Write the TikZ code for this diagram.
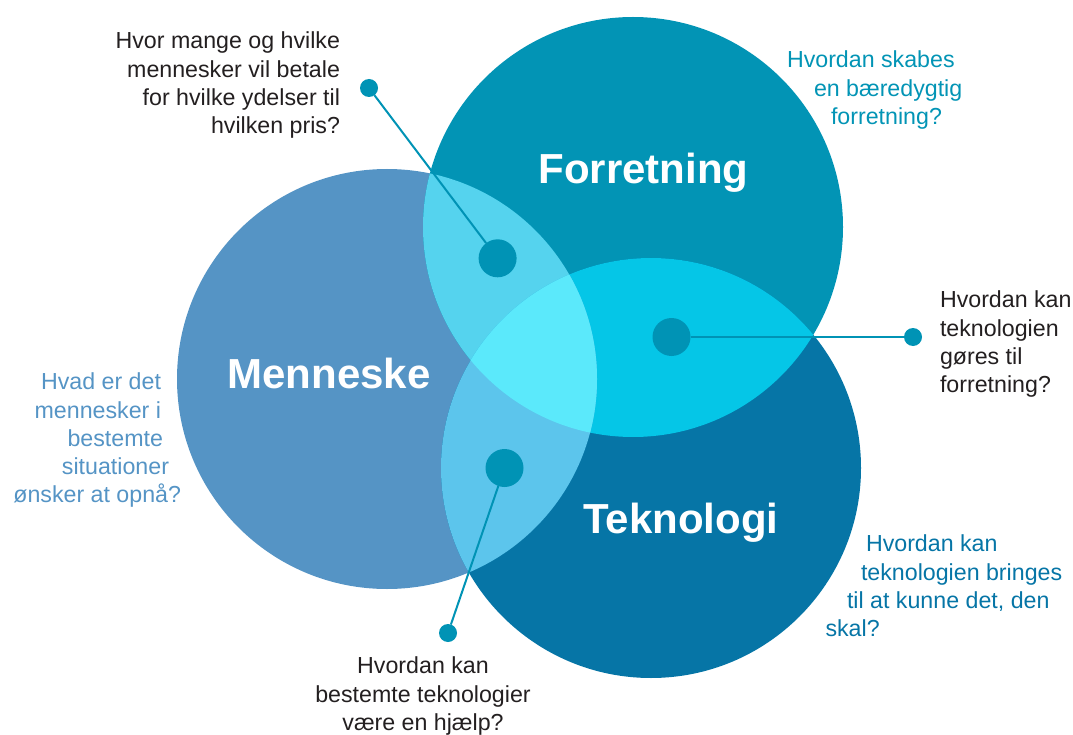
\documentclass[tikz,border=0pt]{standalone}
\usepackage{fontspec}
\setmainfont{Liberation Sans}
% circle and overlap colours
\definecolor{colM}{HTML}{5594C5}
\definecolor{colF}{HTML}{0294B5}
\definecolor{colT}{HTML}{0675A6}
\definecolor{colMF}{HTML}{55D3EE}
\definecolor{colFT}{HTML}{05C6E7}
\definecolor{colMT}{HTML}{5CC5EC}
\definecolor{colMFT}{HTML}{5BE9FB}
\definecolor{dotc}{HTML}{0093B5}
\definecolor{txtdark}{HTML}{231F20}
% invisible spacer that survives line ends
\newcommand{\padw}[1]{\rule{#1}{0pt}}
\begin{document}
\begin{tikzpicture}[x=1pt,y=-1pt,
  every node/.style={inner sep=0pt, outer sep=0pt},
  bigdot/.style={circle, fill=dotc, minimum size=38pt},
  smalldot/.style={circle, fill=dotc, minimum size=18pt},
  conn/.style={draw=dotc, line width=2pt},
  title/.style={text=white, font=\fontsize{42}{50}\selectfont\bfseries},
  question/.style={font=\fontsize{23.2}{28.2}\selectfont},
  ring/.style={radius=210pt},
]
\useasboundingbox (0,0) rectangle (1073,735);

% circle centres
\coordinate (cm) at (387,379);
\coordinate (cf) at (633,227);
\coordinate (ct) at (651,468);

% the three circles
\fill[colM] (cm) circle[ring];
\fill[colF] (cf) circle[ring];
\fill[colT] (ct) circle[ring];

% pairwise overlaps
\begin{scope}
  \clip (cm) circle[ring];
  \fill[colMF] (cf) circle[ring];
\end{scope}
\begin{scope}
  \clip (cf) circle[ring];
  \fill[colFT] (ct) circle[ring];
\end{scope}
\begin{scope}
  \clip (cm) circle[ring];
  \fill[colMT] (ct) circle[ring];
\end{scope}
% common centre
\begin{scope}
  \clip (cm) circle[ring];
  \clip (cf) circle[ring];
  \fill[colMFT] (ct) circle[ring];
\end{scope}

% circle titles
\node[title, anchor=base] (lm) at (329,388) {Menneske};
\node[title, anchor=base] (lf) at (643.5,184) {Forretning};
\node[title, anchor=base] (lt) at (681,533) {Teknologi};

% pointer dots and their leader lines
\node[bigdot] (d1) at (497.6,258.3) {};
\node[smalldot] (s1) at (369,88) {};
\draw[conn] (s1) -- (d1);

\node[bigdot] (d2) at (671.5,337) {};
\node[smalldot] (s2) at (913,337) {};
\draw[conn] (d2) -- (s2);

\node[bigdot] (d3) at (504.5,468) {};
\node[smalldot] (s3) at (448,633) {};
\draw[conn] (d3) -- (s3);

% questions
\node[question, text=txtdark, align=right, anchor=north east] (q1) at (340,32)
  {Hvor mange og hvilke\\mennesker vil betale\\for hvilke ydelser til\\hvilken pris?};
\node[question, text=colF, align=left, anchor=north west] (q2) at (787,51)
  {Hvordan skabes\\\padw{27pt}en bæredygtig\\\padw{44pt}forretning?};
\node[question, text=txtdark, align=left, anchor=north west] (q3) at (940,291)
  {Hvordan kan\\teknologien\\gøres til\\forretning?};
\node[question, text=colM, align=right, anchor=north east] (q4) at (181,373)
  {Hvad er det\padw{20pt}\\mennesker i\padw{20pt}\\bestemte\padw{18pt}\\situationer\padw{12pt}\\ønsker at opnå?};
\node[question, text=txtdark, align=center, anchor=north] (q5) at (423,657)
  {Hvordan kan\\bestemte teknologier\\være en hjælp?};
\node[question, text=colT, align=left, anchor=north west] (q6) at (825.5,535)
  {\padw{40.5pt}Hvordan kan\\\padw{35.5pt}teknologien bringes\\\padw{21.5pt}til at kunne det, den\\skal?};
\end{tikzpicture}
\end{document}
